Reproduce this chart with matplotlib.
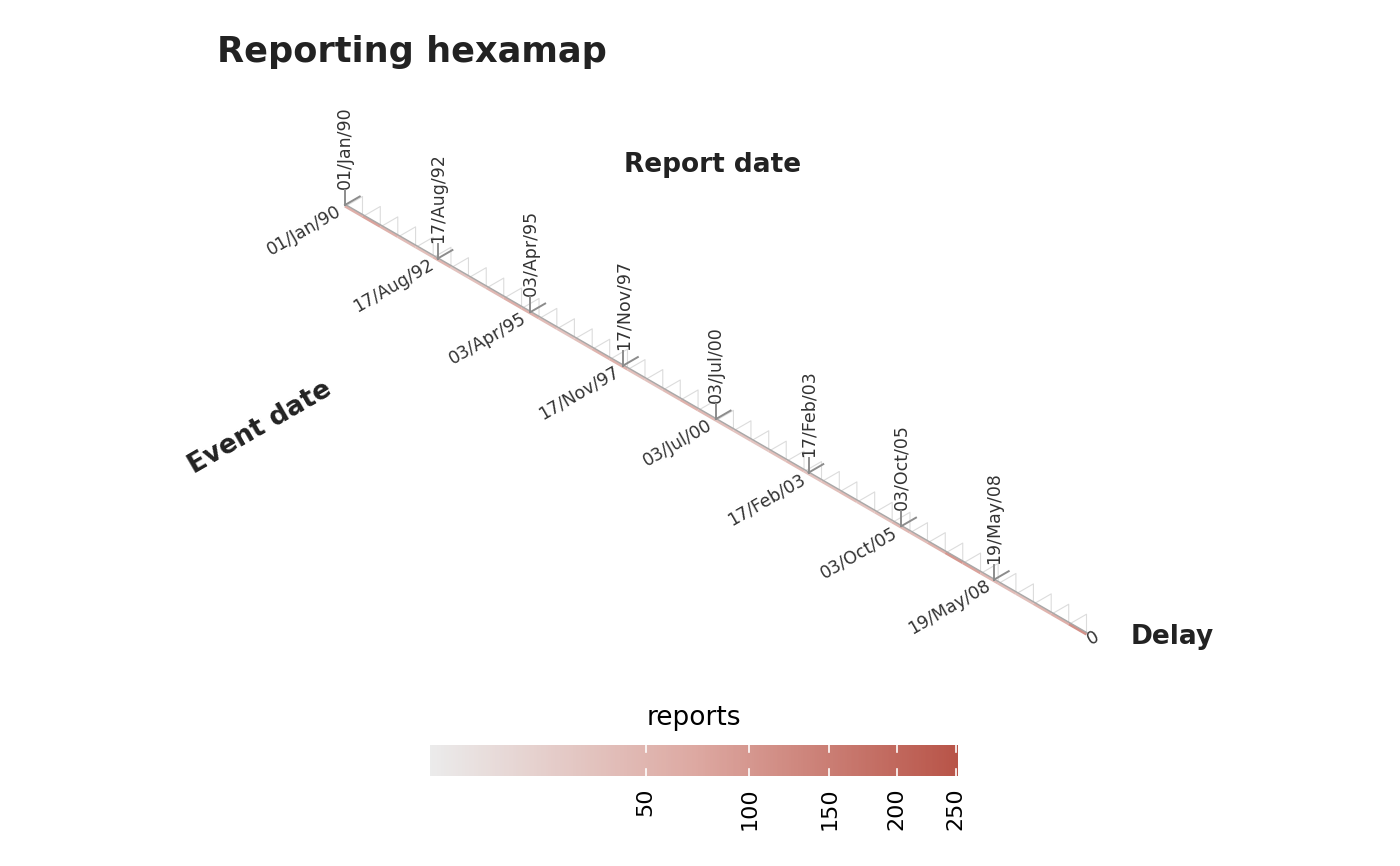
import numpy as np
import matplotlib
matplotlib.use("Agg")
import matplotlib.pyplot as plt
from matplotlib.transforms import Affine2D
from matplotlib.collections import LineCollection
from matplotlib.colors import LinearSegmentedColormap, FuncNorm
import datetime as dt

# ---------------- data ----------------
start_date = dt.date(1990, 1, 1)
end_date = dt.date(2011, 1, 1)
tick_step_days = 959
tick_labels = ["01/Jan/90", "17/Aug/92", "03/Apr/95", "17/Nov/97",
               "03/Jul/00", "17/Feb/03", "03/Oct/05", "19/May/08"]
# half-year bins, 1990H1 .. 2010H2
reports = [60, 80, 55, 40, 35, 50, 30, 35, 45, 60,
           55, 40, 30, 35, 50, 55, 35, 30, 40, 55,
           45, 35, 30, 28, 35, 40, 30, 35, 40, 30,
           35, 45, 40, 55, 100, 80, 45, 40, 35, 50,
           60, 110]
delay_labels = ["0"]
cbar_ticks = [50, 100, 150, 200, 250]
cbar_min, cbar_max = 1, 252

# ---------------- geometry ----------------
W, H = 1400, 866
fig = plt.figure(figsize=(W / 100, H / 100), dpi=100)
ax = fig.add_axes([0, 0, 1, 1])
ax.set_xlim(0, W)
ax.set_ylim(H, 0)
ax.axis("off")

edges = []
for y in range(1990, 2011):
    edges.append(dt.date(y, 1, 1))
    edges.append(dt.date(y, 7, 1))
edges.append(end_date)
edge_days = np.array([(d - start_date).days for d in edges], dtype=float)
t_end = edge_days[-1]

ox, oy = 345.0, 205.0
px_end = 1086.5
a = (px_end - ox) / t_end          # px per day along x
b = a * np.tan(np.radians(30))     # px per day along y
skew = Affine2D.from_values(a, b, a, -b, ox, oy)
trans = skew + ax.transData

cmap = LinearSegmentedColormap.from_list("rep", ["#EBEBEB", "#DDA9A2", "#B85448"])
norm = FuncNorm((lambda v: np.sqrt(v), lambda s: np.square(s)), vmin=cbar_min, vmax=cbar_max)

# hexagon outlines (teeth)
teeth = []
for t0, t1 in zip(edge_days[:-1], edge_days[1:]):
    d = (t1 - t0) * 0.92
    ts = t1 - d
    teeth.append([(ts, 0), (ts, d), (t1, 0)])
ax.add_collection(LineCollection(teeth, colors="#DCDCDC", linewidths=0.8, transform=trans, zorder=1))

# colored strip
segs = [[(t0, 0), (t1, 0)] for t0, t1 in zip(edge_days[:-1], edge_days[1:])]
strip = LineCollection(segs, colors=cmap(norm(np.array(reports, float))), linewidths=2.2,
                       transform=trans + Affine2D().translate(0, -1.0), zorder=2, capstyle="butt")
ax.add_collection(strip)
ax.plot([0, t_end], [0, 0], color="#A8A8A8", lw=1.0, transform=trans + Affine2D().translate(0, 0.7), zorder=3)

# ticks and labels
tick_days = np.arange(len(tick_labels)) * tick_step_days
kv = 15 / (2 * b)
kd = 17 / np.hypot(a, b)
for td, lab in zip(tick_days, tick_labels):
    ax.plot([td, td - kv], [0, kv], color="#8C8C8C", lw=1.4, transform=trans, zorder=4)
    ax.plot([td, td], [0, kd], color="#8C8C8C", lw=1.4, transform=trans, zorder=4)
    ax.annotate(lab, (td, 0), xycoords=trans, xytext=(-5, -5), textcoords="offset pixels",
                rotation=30, rotation_mode="anchor", ha="right", va="center",
                fontsize=12.5, color="#333333")
    ax.annotate(lab, (td - kv, kv), xycoords=trans, xytext=(0, 1), textcoords="offset pixels",
                rotation=90, ha="center", va="bottom", fontsize=12.5, color="#333333")

ax.annotate(delay_labels[0], (t_end, 0), xycoords=trans, xytext=(2, -8), textcoords="offset pixels",
            rotation=30, rotation_mode="anchor", ha="left", va="center", fontsize=12.5, color="#333333")

# titles
ax.text(217, 52, "Reporting hexamap", fontsize=25.3, fontweight="bold", color="#222222",
        ha="left", va="center")
ax.text(713, 165, "Report date", fontsize=19, fontweight="bold", color="#222222", ha="center", va="center")
ax.text(1131, 637, "Delay", fontsize=19, fontweight="bold", color="#222222", ha="left", va="center")
ax.text(260, 428, "Event date", fontsize=19, fontweight="bold", color="#222222", ha="center", va="center",
        rotation=30, rotation_mode="anchor")

# ---------------- colorbar ----------------
ax.text(694, 718, "reports", fontsize=19, color="black", ha="center", va="center")
cax = fig.add_axes([430 / W, 1 - 776 / H, 528 / W, 31 / H])
cax.set_xscale("function", functions=(lambda v: np.sqrt(np.clip(v, 0, None)), lambda s: np.square(s)))
sv = np.linspace(np.sqrt(cbar_min), np.sqrt(cbar_max), 301)
xv = sv ** 2
mid = ((sv[:-1] + sv[1:]) / 2) ** 2
cax.pcolormesh(xv, [0, 1], mid[None, :], cmap=cmap, norm=norm, shading="flat")
cax.set_xlim(cbar_min, cbar_max)
cax.set_ylim(0, 1)
for v in cbar_ticks:
    cax.plot([v, v], [0, 0.22], color="white", lw=1.2)
    cax.plot([v, v], [0.78, 1], color="white", lw=1.2)
cax.set_xticks(cbar_ticks)
cax.set_xticklabels([str(v) for v in cbar_ticks], rotation=90, fontsize=16)
cax.xaxis.set_minor_locator(matplotlib.ticker.NullLocator())
cax.tick_params(axis="x", length=0, pad=8)
cax.set_yticks([])
for s in cax.spines.values():
    s.set_visible(False)

fig.savefig("out.png", dpi=100)
